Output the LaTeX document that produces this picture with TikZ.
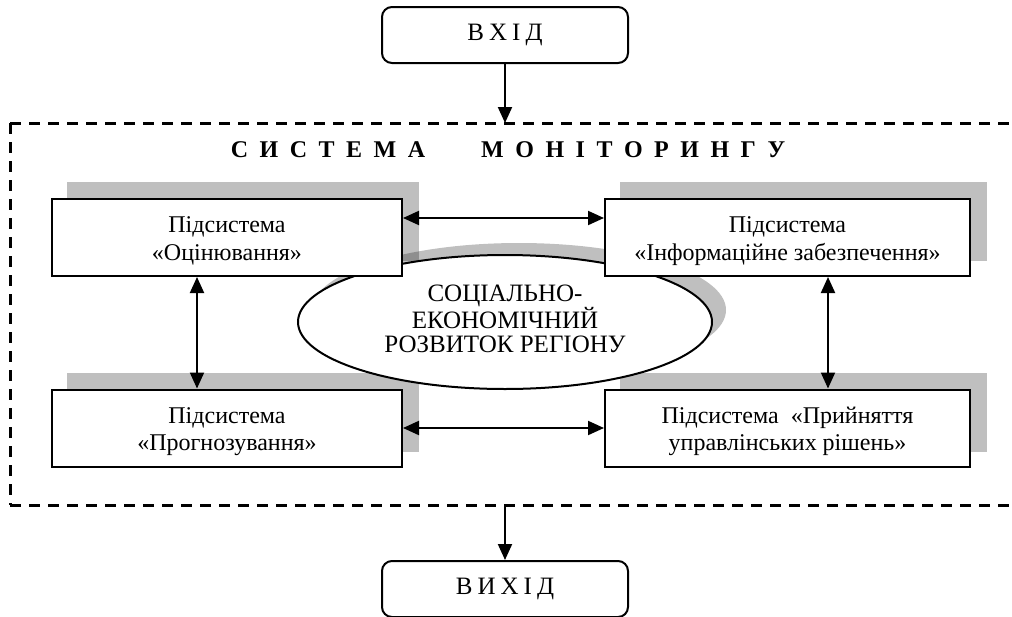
\documentclass[tikz,border=0pt]{standalone}
\usepackage{fontspec}
\setmainfont{Liberation Serif}
\usetikzlibrary{arrows.meta,shapes.geometric,shadows}
\pgfdeclarelayer{bg}
\pgfdeclarelayer{mid}
\pgfsetlayers{bg,mid,main}
\newcommand\tgap{\hspace{11.5pt}}
\newcommand\igap{\hspace{5pt}}
\tikzset{
  sub/.style={draw, line width=2pt, fill=white, rectangle, align=center,
    font=\fontsize{24}{27.5}\selectfont, inner sep=0pt, minimum height=77pt,
    text height=45pt, text depth=0pt},
  io/.style={draw, line width=2pt, rounded corners=10pt, fill=white,
    minimum width=246pt, minimum height=56pt, font=\fontsize{25}{30}\selectfont},
  conn/.style={line width=2pt, {Triangle[length=16pt,width=14pt]}-{Triangle[length=16pt,width=14pt]}},
  oneway/.style={line width=2pt, -{Triangle[length=16pt,width=14pt]}},
  frame/.style={line width=3pt, dash pattern=on 11pt off 8pt},
  shd/.style={fill=black, fill opacity=0.25}
}
\begin{document}
\begin{tikzpicture}[x=1pt,y=-1pt]
\useasboundingbox (0,0) rectangle (1012,616);
\clip (0,0) rectangle (1012,616);

% input / output
\node[io] (in) at (505,35) {В\igap Х\igap І\igap Д};
\node[io] (out) at (505,589) {В\igap И\igap Х\igap І\igap Д};

% dashed frame
\draw[frame] (10,123) -- (1030,123);
\draw[frame] (10,123) -- (10,505);
\draw[frame] (10,505) -- (1030,505);
\coordinate (ftop) at (505,123);
\coordinate (fbot) at (505,505);
\draw[oneway] (in) -- (ftop);
\draw[oneway] (fbot) -- (out);

% title
\node[font=\bfseries\fontsize{24}{28}\selectfont] (title) at (508,150)
  {С\tgap И\tgap С\tgap Т\tgap Е\tgap М\tgap А\hspace{56pt}М\tgap О\tgap Н\tgap І\tgap Т\tgap О\tgap Р\tgap И\tgap Н\tgap Г\tgap У};

% subsystem boxes
\node[sub, minimum width=350pt] (ocin) at (227,237.5) {Підсистема\\«Оцінювання»};
\node[sub, minimum width=365pt] (info) at (787.5,237.5) {Підсистема\\«Інформаційне забезпечення»};
\node[sub, minimum width=350pt] (prog) at (227,428) {Підсистема\\«Прогнозування»};
\node[sub, minimum width=365pt] (prin) at (787.5,428) {Підсистема~~«Прийняття\\управлінських рішень»};

% box shadows
\begin{pgfonlayer}{bg}
\foreach \n in {ocin,info,prog,prin}
  \fill[shd] ([shift={(16,-16)}]\n.south west) rectangle ([shift={(16,-16)}]\n.north east);
\end{pgfonlayer}

% central ellipse
\begin{pgfonlayer}{mid}
\node[ellipse, draw, line width=2pt, fill=white, minimum width=414pt, minimum height=134pt,
  inner sep=0pt, align=center, font=\fontsize{25}{23.5}\selectfont, text depth=7pt,
  general shadow={shadow xshift=14pt, shadow yshift=12pt, shd}] (soc) at (505,322)
  {СОЦІАЛЬНО-\\ЕКОНОМІЧНИЙ\\РОЗВИТОК РЕГІОНУ};
\end{pgfonlayer}

% connectors
\draw[conn] ([yshift=19.5pt]ocin.east) -- ([yshift=19.5pt]info.west);
\draw[conn] (prog.east) -- (prin.west);
\draw[conn] ([xshift=-30pt]ocin.south) -- ([xshift=-30pt]prog.north);
\draw[conn] ([xshift=40.5pt]info.south) -- ([xshift=40.5pt]prin.north);
\end{tikzpicture}
\end{document}
